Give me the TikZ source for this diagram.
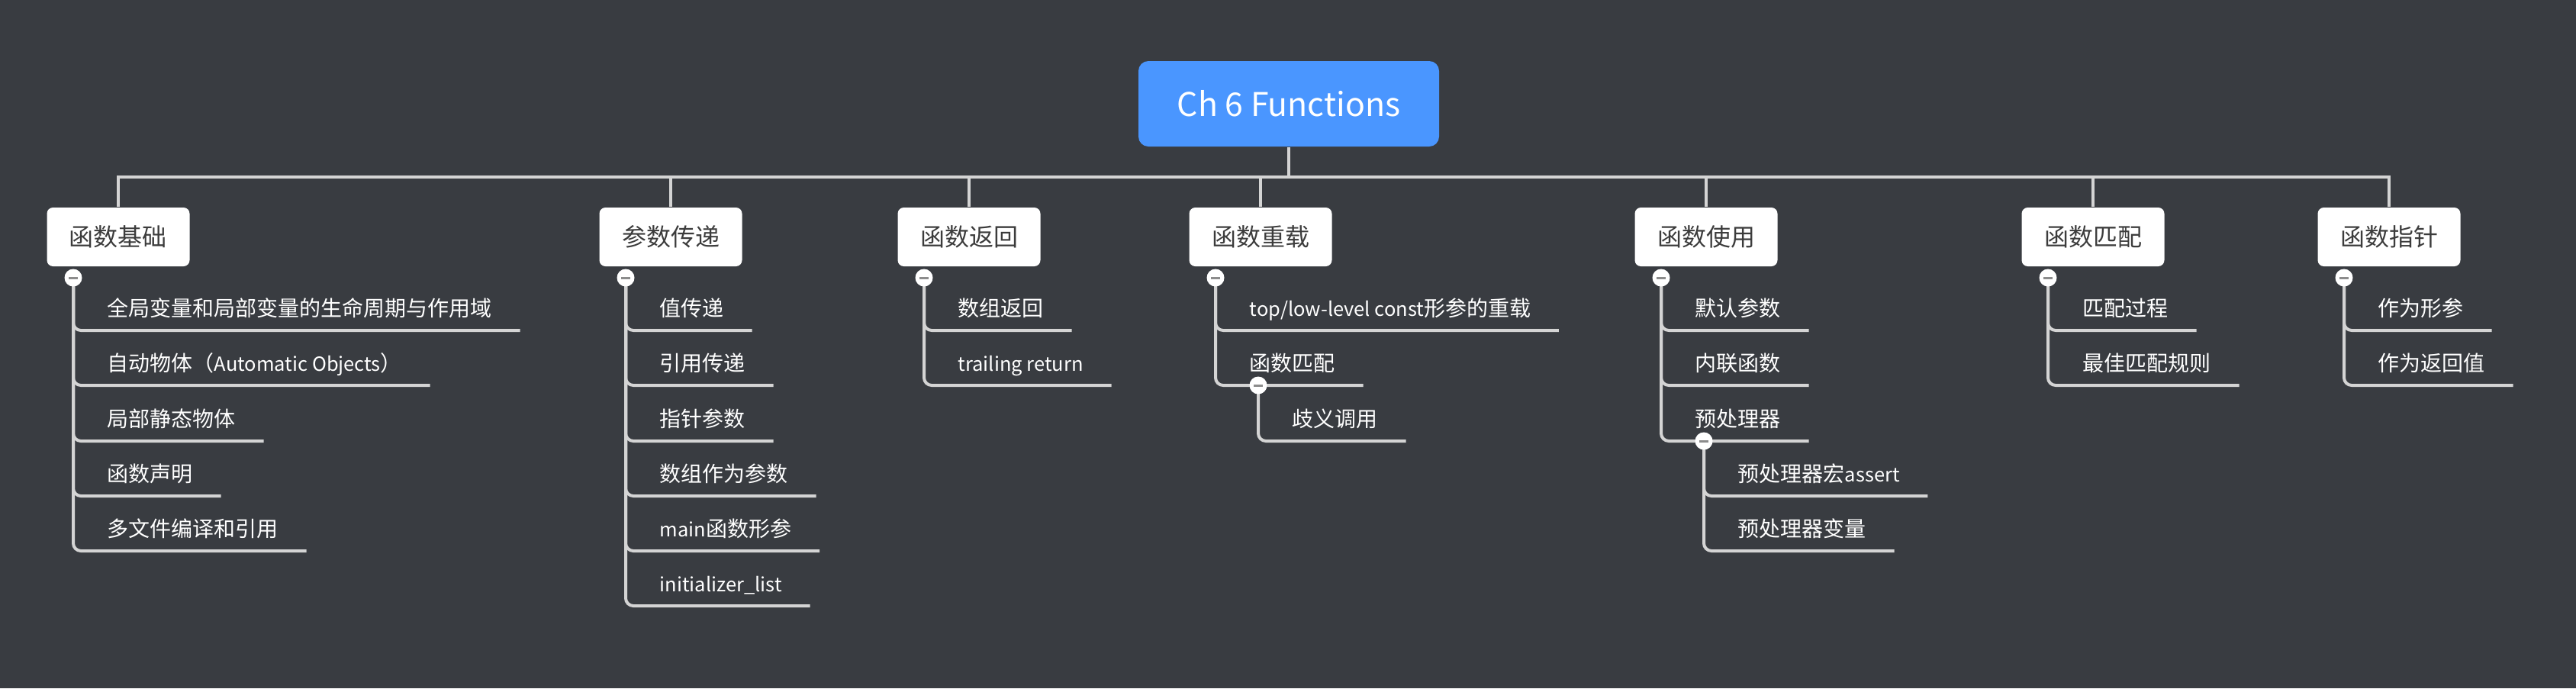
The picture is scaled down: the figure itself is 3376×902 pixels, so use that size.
\documentclass[tikz,border=0pt]{standalone}
\usepackage{fontspec}
\setmainfont{Noto Sans CJK SC}
\newfontfamily\latf{Noto Sans CJK SC}[Scale=0.91]
\newcommand\lat[1]{{\latf #1}}
\definecolor{bgc}{HTML}{393C41}
\definecolor{rootblue}{HTML}{4A96FF}
\definecolor{conn}{HTML}{D4D4D4}
\definecolor{boxtext}{HTML}{3C3C3C}
\definecolor{minusc}{HTML}{8C8C8C}
\pgfdeclarelayer{back}
\pgfsetlayers{back,main}
\begin{document}
\begin{tikzpicture}[x=0.25pt,y=-0.25pt,
 rootbox/.style={rectangle,rounded corners=3.25pt,fill=rootblue,text=white,minimum width=98.5pt,minimum height=28pt,inner sep=0pt,font=\fontsize{11.75pt}{13pt}\selectfont},
 topic/.style={rectangle,rounded corners=2pt,fill=white,text=boxtext,minimum width=46.75pt,minimum height=19.25pt,inner sep=0pt,font=\fontsize{8pt}{10pt}\selectfont},
 item/.style={anchor=south west,inner xsep=0pt,inner ysep=4.5pt,text depth=0pt,text=white,font=\fontsize{7pt}{9pt}\selectfont},
 toggle/.style={circle,fill=white,minimum size=5.75pt,inner sep=0pt,path picture={\draw[minusc,line width=0.75pt] ([xshift=-1.5pt]path picture bounding box.center) -- ([xshift=1.5pt]path picture bounding box.center);}},
 link/.style={draw=conn,line width=1pt},
 bus/.style={draw=conn,line width=1pt,line cap=rect},
 branch/.style={draw=conn,line width=1pt,rounded corners=2.5pt}]
\useasboundingbox (0,0) rectangle (3376,902);
% root and topics
\node[rootbox] (root) at (1689,136) {\lat{Ch 6 Functions}};
\node[topic] (c1) at (155,310.5) {函数基础};
\node[topic] (c2) at (879,310.5) {参数传递};
\node[topic] (c3) at (1270,310.5) {函数返回};
\node[topic] (c4) at (1652,310.5) {函数重载};
\node[topic] (c5) at (2236,310.5) {函数使用};
\node[topic] (c6) at (2743,310.5) {函数匹配};
\node[topic] (c7) at (3131,310.5) {函数指针};
\coordinate (busL) at (155,232);
\coordinate (busR) at (3131,232);
% items of c1
\node[item] (a11) at (140,433) {全局变量和局部变量的生命周期与作用域};
\node[item] (a12) at (140,505) {自动物体（\lat{Automatic Objects}）};
\node[item] (a13) at (140,578) {局部静态物体};
\node[item] (a14) at (140,650) {函数声明};
\node[item] (a15) at (140,722) {多文件编译和引用};
% items of c2
\node[item] (a21) at (864,433) {值传递};
\node[item] (a22) at (864,505) {引用传递};
\node[item] (a23) at (864,578) {指针参数};
\node[item] (a24) at (864,650) {数组作为参数};
\node[item] (a25) at (864,722) {\lat{main}函数形参};
\node[item] (a26) at (864,794) {\lat{initializer\_list}};
% items of c3
\node[item] (a31) at (1255,433) {数组返回};
\node[item] (a32) at (1255,505) {\lat{trailing return}};
% items of c4
\node[item] (a41) at (1637,433) {\lat{top/low-level const}形参的重载};
\node[item] (a42) at (1637,505) {函数匹配};
\node[item] (a421) at (1693,578) {歧义调用};
% items of c5
\node[item] (a51) at (2221,433) {默认参数};
\node[item] (a52) at (2221,505) {内联函数};
\node[item] (a53) at (2221,578) {预处理器};
\node[item] (a531) at (2277,650) {预处理器宏\lat{assert}};
\node[item] (a532) at (2277,722) {预处理器变量};
% items of c6
\node[item] (a61) at (2729,433) {匹配过程};
\node[item] (a62) at (2729,505) {最佳匹配规则};
% items of c7
\node[item] (a71) at (3116,433) {作为形参};
\node[item] (a72) at (3116,505) {作为返回值};
% toggles
\node[toggle] (t1) at (96,364) {};
\node[toggle] (t2) at (820,364) {};
\node[toggle] (t3) at (1211,364) {};
\node[toggle] (t4) at (1593,364) {};
\node[toggle] (t5) at (2177,364) {};
\node[toggle] (t6) at (2684,364) {};
\node[toggle] (t7) at (3072,364) {};
\node[toggle] (t42) at ([xshift=3pt]a42.south west) {};
\node[toggle] (t53) at ([xshift=3pt]a53.south west) {};
\begin{pgfonlayer}{back}
\fill[bgc] (0,0) rectangle (3376,902);
\draw[link] (root.south) -- (root.south |- busL);
\draw[bus] (busL) -- (busR);
\foreach \c in {c1,c2,c3,c4,c5,c6,c7}{
  \draw[link] (\c.north) -- (\c.north |- busL);
}
\foreach \t/\a in {t1/a11,t1/a12,t1/a13,t1/a14,t1/a15,
                   t2/a21,t2/a22,t2/a23,t2/a24,t2/a25,t2/a26,
                   t3/a31,t3/a32,
                   t4/a41,t4/a42,t42/a421,
                   t5/a51,t5/a52,t5/a53,t53/a531,t53/a532,
                   t6/a61,t6/a62,
                   t7/a71,t7/a72}{
  \draw[branch] (\t.center) |- ([xshift=9pt]\a.south east);
}
\end{pgfonlayer}
\end{tikzpicture}
\end{document}
